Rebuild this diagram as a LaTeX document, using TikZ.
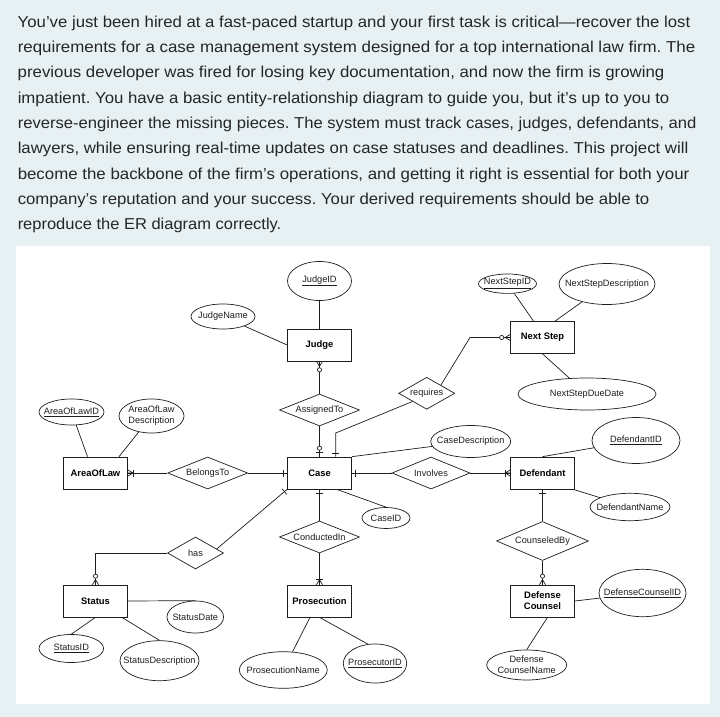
\documentclass[tikz,border=0pt]{standalone}
\usepackage{fontspec}
\usepackage{graphicx}
\setmainfont{Liberation Sans}
\usetikzlibrary{shapes.geometric,calc}
\frenchspacing
\definecolor{pagebg}{RGB}{231,241,244}
\definecolor{txt}{RGB}{38,38,38}
\definecolor{ink}{RGB}{30,30,30}
\newlength\fitlen
\newcommand\fitline[2]{\settowidth\fitlen{#2}\pgfmathsetmacro\fitfac{#1/\fitlen}\scalebox{\fitfac}[1]{#2}}
\newcommand\erbar[3][3.5]{\draw[shift={(#2)},rotate=#3] (#1,-3.5) -- (#1,3.5);}
\newcommand\ercrow[2]{\draw[shift={(#1)},rotate=#2] (0,-3) -- (5,0) -- (0,3) (0,0) -- (5,0);}
\newcommand\ercirc[2]{\draw[shift={(#1)},rotate=#2,fill=white] (8.5,0) circle[radius=2.1pt];}
\newcommand\relnode[5]{\node[rel, minimum width=#3pt, minimum height=#4pt, label={[lab]center:#5}] (#1) at (#2) {};}
\newcommand\attrnode[5]{\node[attr, minimum width=#3pt, minimum height=#4pt, label={[lab]center:{#5}}] (#1) at (#2) {};}
\tikzset{
  ent/.style={draw=ink, rectangle, minimum width=64pt, minimum height=32pt, inner sep=0pt,
    font=\fontsize{9.4}{11}\selectfont\bfseries, align=center, fill=white},
  rel/.style={draw=ink, diamond, inner sep=0pt, fill=white},
  attr/.style={draw=ink, ellipse, inner sep=0pt, fill=white},
  lab/.style={font=\fontsize{9.2}{11}\selectfont, align=center, inner sep=0pt, text=ink},
  para/.style={anchor=base west, inner sep=0pt, text=txt, font=\fontsize{15.8}{19}\selectfont},
  conn/.style={draw=ink}
}
\begin{document}
\begin{tikzpicture}[x=1pt,y=-1pt,line width=0.7pt]
\path[fill=pagebg] (0,0) rectangle (720,717);
\useasboundingbox (0,0) rectangle (720,717);
\path[fill=white] (16,245.7) rectangle (709.6,704.4);

% paragraph
\node[para] (p1) at (17.4,27.3) {\fitline{672.6pt}{You've just been hired at a fast-paced startup and your first task is critical—recover the lost}};
\node[para] (p2) at (17.4,52.6) {\fitline{677.6pt}{requirements for a case management system designed for a top international law firm. The}};
\node[para] (p3) at (17.4,77.9) {\fitline{646.6pt}{previous developer was fired for losing key documentation, and now the firm is growing}};
\node[para] (p4) at (17.4,103.2) {\fitline{651.6pt}{impatient. You have a basic entity-relationship diagram to guide you, but it's up to you to}};
\node[para] (p5) at (17.4,128.5) {\fitline{678.6pt}{reverse-engineer the missing pieces. The system must track cases, judges, defendants, and}};
\node[para] (p6) at (17.4,153.8) {\fitline{670.6pt}{lawyers, while ensuring real-time updates on case statuses and deadlines. This project will}};
\node[para] (p7) at (17.4,179.1) {\fitline{671.6pt}{become the backbone of the firm's operations, and getting it right is essential for both your}};
\node[para] (p8) at (17.4,204.4) {\fitline{631.6pt}{company's reputation and your success. Your derived requirements should be able to}};
\node[para] (p9) at (17.4,229.7) {\fitline{263.6pt}{reproduce the ER diagram correctly.}};

% entities
\node[ent] (Judge) at (319.5,345) {Judge};
\node[ent] (Case) at (319.5,473) {Case};
\node[ent, minimum width=64.4pt] (AreaOfLaw) at (95.5,473) {AreaOfLaw};
\node[ent] (Prosecution) at (319.5,601) {Prosecution};
\node[ent] (Status) at (95.5,601) {Status};
\node[ent] (NextStep) at (542.5,337.5) {Next Step};
\node[ent] (Defendant) at (542.5,473) {Defendant};
\node[ent] (DefenseCounsel) at (542.5,601) {Defense\\Counsel};

% relationships
\relnode{AssignedTo}{319.5,410}{80}{32}{AssignedTo}
\relnode{BelongsTo}{207.7,473}{80}{32}{BelongsTo}
\relnode{Involves}{431,473}{78}{32}{Involves}
\relnode{ConductedIn}{319.5,537}{80}{32}{ConductedIn}
\relnode{has}{195.5,553}{56}{32}{has}
\relnode{requires}{426.7,393.3}{56}{32}{requires}
\relnode{CounseledBy}{542.5,541}{92}{39}{CounseledBy}

% attributes
\attrnode{JudgeID}{319.5,281}{64}{39}{\underline{JudgeID}}
\attrnode{JudgeName}{223,316.5}{64}{25}{JudgeName}
\attrnode{AreaOfLawID}{71.5,412}{65}{26}{\underline{AreaOfLawID}}
\attrnode{AreaOfLawDesc}{151.5,416}{65}{34}{AreaOfLaw\\Description}
\attrnode{CaseDescription}{470.7,441.5}{80}{32}{CaseDescription}
\attrnode{CaseID}{386,518}{48}{21}{CaseID}
\attrnode{ProsecutionName}{283.3,670}{88}{36.6}{ProsecutionName}
\attrnode{ProsecutorID}{375,663.5}{63.4}{39}{\underline{ProsecutorID}}
\attrnode{StatusDate}{195.3,617}{56.6}{32}{StatusDate}
\attrnode{StatusID}{71.3,648.5}{64.6}{28}{\underline{StatusID}}
\attrnode{StatusDescription}{159.5,660.7}{79}{40}{StatusDescription}
\attrnode{NextStepID}{507.5,283.7}{58}{19.4}{\underline{NextStepID}}
\attrnode{NextStepDescription}{607,284}{96}{41}{NextStepDescription}
\attrnode{NextStepDueDate}{587,394}{138}{32}{NextStepDueDate}
\attrnode{DefendantID}{636,440.5}{88}{46}{\underline{DefendantID}}
\attrnode{DefendantName}{630,507}{80}{27.4}{DefendantName}
\attrnode{DefenseCounselID}{642.5,593}{87}{47.4}{\underline{DefenseCounselID}}
\attrnode{DefenseCounselName}{526.7,665}{80}{30}{Defense\\CounselName}

\coordinate (reqbend) at (335.7,433);
\coordinate (nsbend) at (470,337.5);

% attribute links
\draw[conn] (JudgeID) -- (Judge);
\draw[conn] (JudgeName) -- (Judge.west);
\draw[conn] (AreaOfLawID) -- ([xshift=-8pt]AreaOfLaw.north);
\draw[conn] (AreaOfLawDesc) -- ([xshift=23.5pt]AreaOfLaw.north);
\draw[conn] (CaseDescription) -- (Case.north east);
\draw[conn] (CaseID.north) -- ([xshift=17.2pt]Case.south);
\draw[conn] (ProsecutionName) -- ([xshift=-9.5pt]Prosecution.south);
\draw[conn] (ProsecutorID.110) -- (Prosecution.south);
\draw[conn] (Status.east) -- (StatusDate.north);
\draw[conn] (StatusID.north) -- (Status.south);
\draw[conn] (StatusDescription.north) -- ([xshift=-6pt]Status.south east);
\draw[conn] (NextStepID) -- ([xshift=-9pt]NextStep.north);
\draw[conn] (NextStepDescription) -- ([xshift=12.5pt]NextStep.north);
\draw[conn] (NextStepDueDate) -- (NextStep.south);
\draw[conn] (DefendantID) -- (Defendant.north);
\draw[conn] (DefendantName) -- ([xshift=-1.6pt]Defendant.south east);
\draw[conn] (DefenseCounselID) -- (DefenseCounsel.east);
\draw[conn] (DefenseCounselName.north) -- ([xshift=5pt]DefenseCounsel.south);

% relationship links
\draw[conn] (Judge.south) -- (AssignedTo.north);
\draw[conn] (AssignedTo.south) -- (Case.north);
\draw[conn] ($(requires.west)!.5!(requires.south)$) -- (reqbend) -- (reqbend |- Case.north);
\draw[conn] ($(requires.north)!.5!(requires.east)$) -- (nsbend) -- (NextStep.west);
\draw[conn] (AreaOfLaw.east) -- (BelongsTo.west);
\draw[conn] (BelongsTo.east) -- (Case.west);
\draw[conn] (Case.east) -- (Involves.west);
\draw[conn] (Involves.east) -- (Defendant.west);
\draw[conn] (Case.south) -- (ConductedIn.north);
\draw[conn] (ConductedIn.south) -- (Prosecution.north);
\draw[conn] ($(has.east)!.25!(has.north)$) -- (Case.south west);
\draw[conn] (has.west) -| (Status.north);
\draw[conn] (Defendant.south) -- (CounseledBy.north);
\draw[conn] (CounseledBy.south) -- (DefenseCounsel.north);

% cardinality marks
\begin{scope}[draw=ink]
\ercrow{Judge.south}{-90} \ercirc{Judge.south}{-90}
\erbar[4.5]{Case.north}{90} \ercirc{Case.north}{90}
\erbar{reqbend |- Case.north}{90}
\ercrow{AreaOfLaw.east}{0} \erbar[5]{AreaOfLaw.east}{0}
\erbar{Case.west}{180}
\erbar{Case.east}{0}
\ercrow{Defendant.west}{180} \erbar[5]{Defendant.west}{180}
\erbar{Case.south west}{220}
\erbar{Case.south}{-90}
\ercrow{Prosecution.north}{90} \erbar[5]{Prosecution.north}{90}
\ercrow{Status.north}{90} \ercirc{Status.north}{90}
\ercrow{NextStep.west}{180} \ercirc{NextStep.west}{180}
\erbar{Defendant.south}{-90}
\ercrow{DefenseCounsel.north}{90} \ercirc{DefenseCounsel.north}{90}
\end{scope}
\end{tikzpicture}
\end{document}
